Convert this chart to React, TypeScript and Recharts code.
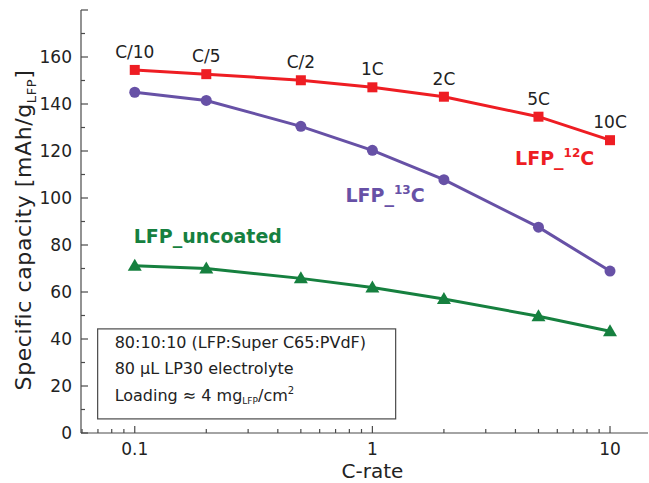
import React from "react";
import {
  ComposedChart,
  Line,
  XAxis,
  YAxis,
  ReferenceDot,
  ReferenceArea,
  LabelList,
} from "recharts";

// C-rates and the rate names written over the red curve
const rates = [0.1, 0.2, 0.5, 1, 2, 5, 10];
const rateNames = ["C/10", "C/5", "C/2", "1C", "2C", "5C", "10C"];

// specific capacity, mAh/g LFP
const lfp12C = [154.5, 152.7, 150.1, 147.1, 143.1, 134.6, 124.6];
const lfp13C = [145, 141.5, 130.5, 120.3, 107.8, 87.6, 68.9];
const lfpUncoated = [71.2, 70, 65.8, 61.9, 57, 49.7, 43.3];

const xMajor = [0.1, 1, 10];
const xMinor = [0.06, 0.07, 0.08, 0.09, 0.2, 0.3, 0.4, 0.5, 0.6, 0.7, 0.8, 0.9, 2, 3, 4, 5, 6, 7, 8, 9];
const yMajor = [0, 20, 40, 60, 80, 100, 120, 140, 160, 180];
const yMinor = [10, 30, 50, 70, 90, 110, 130, 150, 170];
const yLabelled = [0, 20, 40, 60, 80, 100, 120, 140, 160];

const xTicks = [...xMinor, ...xMajor].sort((a, b) => a - b);
const yTicks = [...yMinor, ...yMajor].sort((a, b) => a - b);

const RED = "#ee1d23";
const PURPLE = "#6751a6";
const GREEN = "#16803f";
const AXIS = "#4a4a4a";
const FONT = "DejaVu Sans";

// series names placed in the plot (data coordinates)
const tags = [
  { x: 5.85, y: 117, iso: "12", name: "LFP_", tail: "C", color: RED },
  { x: 1.13, y: 101.3, iso: "13", name: "LFP_", tail: "C", color: PURPLE },
  { x: 0.203, y: 83.8, iso: "", name: "LFP_uncoated", tail: "", color: GREEN },
];

const data = rates.map((r, i) => ({
  rate: r,
  name: rateNames[i],
  c12: lfp12C[i],
  c13: lfp13C[i],
  unc: lfpUncoated[i],
}));

const BottomTick = (props: any) => {
  const { x, y, payload } = props;
  const major = xMajor.includes(payload.value);
  return (
    <g>
      <line x1={x} x2={x} y1={y} y2={y - (major ? 7 : 4)} stroke={AXIS} strokeWidth={1.2} />
      {major && (
        <text x={x} y={y + 22} textAnchor="middle" fontFamily={FONT} fontSize={17} fill="#222">
          {payload.value}
        </text>
      )}
    </g>
  );
};

const TopTick = (props: any) => {
  const { x, y, payload } = props;
  const major = xMajor.includes(payload.value);
  return <line x1={x} x2={x} y1={y} y2={y + (major ? 7 : 4)} stroke={AXIS} strokeWidth={1.2} />;
};

const LeftTick = (props: any) => {
  const { x, y, payload } = props;
  const major = yMajor.includes(payload.value);
  return (
    <g>
      <line x1={x} x2={x + (major ? 7 : 4)} y1={y} y2={y} stroke={AXIS} strokeWidth={1.2} />
      {yLabelled.includes(payload.value) && (
        <text x={x - 9} y={y + 6} textAnchor="end" fontFamily={FONT} fontSize={17} fill="#222">
          {payload.value}
        </text>
      )}
    </g>
  );
};

const RightTick = (props: any) => {
  const { x, y, payload } = props;
  const major = yMajor.includes(payload.value);
  return <line x1={x} x2={x - (major ? 7 : 4)} y1={y} y2={y} stroke={AXIS} strokeWidth={1.2} />;
};

const XLabel = (props: any) => {
  const { x, y, width } = props.viewBox;
  return (
    <text x={x + width / 2 + 8} y={y + 45} textAnchor="middle" fontFamily={FONT} fontSize={20} fill="#222">
      C-rate
    </text>
  );
};

const YLabel = () => (
  <text
    transform="translate(31,230) rotate(-90)"
    textAnchor="middle"
    fontFamily={FONT}
    fontSize={22}
    letterSpacing={0.6}
    fill="#222"
  >
    Specific capacity [mAh/g
    <tspan fontSize={13} dy={5}>LFP</tspan>
    <tspan dy={-5}>]</tspan>
  </text>
);

const Square = (props: any) => {
  const { cx, cy } = props;
  if (cx == null || cy == null) return null;
  return <rect x={cx - 5} y={cy - 5} width={10} height={10} fill={RED} />;
};

const Triangle = (props: any) => {
  const { cx, cy } = props;
  if (cx == null || cy == null) return null;
  return <polygon points={`${cx},${cy - 7} ${cx + 7},${cy + 5} ${cx - 7},${cy + 5}`} fill={GREEN} />;
};

const InfoBox = (props: any) => {
  const { x, y, width, height } = props;
  const tx = x + 17;
  return (
    <g fontFamily={FONT} fontSize={16} fill="#222">
      <rect x={x} y={y} width={width} height={height} fill="#fff" stroke={AXIS} strokeWidth={1.2} />
      <text x={tx} y={y + 19}>80:10:10 (LFP:Super C65:PVdF)</text>
      <text x={tx} y={y + 45}>80 µL LP30 electrolyte</text>
      <text x={tx} y={y + 72}>
        Loading ≈ 4 mg
        <tspan fontSize={9} dy={3}>LFP</tspan>
        <tspan dy={-3}>/cm</tspan>
        <tspan fontSize={10} dy={-7}>2</tspan>
      </text>
    </g>
  );
};

const tagShape = (t: any) => (p: any) => (
  <text
    x={p.cx}
    y={p.cy + 7}
    textAnchor="middle"
    fontFamily={FONT}
    fontWeight="bold"
    fontSize={19}
    fill={t.color}
  >
    {t.name}
    {t.iso && (
      <tspan fontSize={12} dy={-8}>
        {t.iso}
      </tspan>
    )}
    {t.tail && <tspan dy={8}>{t.tail}</tspan>}
  </text>
);

export default function App() {
  return (
    <div style={{ position: "fixed", left: 0, top: 0, width: 649, height: 483, background: "#fff" }}>
      <ComposedChart width={649} height={483} data={data} margin={{ top: 10, right: 1, bottom: 0, left: 0 }}>
        <XAxis
          dataKey="rate"
          type="number"
          scale="log"
          domain={[0.0594, 14.45]}
          allowDataOverflow
          ticks={xTicks}
          interval={0}
          tickLine={false}
          tickSize={0}
          tickMargin={0}
          height={50}
          tick={<BottomTick />}
          axisLine={{ stroke: AXIS, strokeWidth: 1.2 }}
          label={<XLabel />}
        />
        <XAxis
          xAxisId="top"
          orientation="top"
          dataKey="rate"
          type="number"
          scale="log"
          domain={[0.0594, 14.45]}
          allowDataOverflow
          ticks={xTicks}
          interval={0}
          tickLine={false}
          tickSize={0}
          tickMargin={0}
          height={0}
          tick={<TopTick />}
          axisLine={{ stroke: AXIS, strokeWidth: 1.2 }}
        />
        <YAxis
          type="number"
          domain={[0, 180]}
          allowDataOverflow
          ticks={yTicks}
          interval={0}
          tickLine={false}
          tickSize={0}
          tickMargin={0}
          width={81}
          tick={<LeftTick />}
          axisLine={{ stroke: AXIS, strokeWidth: 1.2 }}
          label={<YLabel />}
        />
        <YAxis
          yAxisId="right"
          orientation="right"
          type="number"
          domain={[0, 180]}
          allowDataOverflow
          ticks={yTicks}
          interval={0}
          tickLine={false}
          tickSize={0}
          tickMargin={0}
          width={0}
          tick={<RightTick />}
          axisLine={{ stroke: AXIS, strokeWidth: 1.2 }}
        />
        <ReferenceArea x1={0.0698} x2={1.253} y1={6} y2={44.3} shape={InfoBox} ifOverflow="visible" />
        <Line
          dataKey="unc"
          stroke={GREEN}
          strokeWidth={3}
          dot={<Triangle />}
          activeDot={false}
          isAnimationActive={false}
        />
        <Line
          dataKey="c13"
          stroke={PURPLE}
          strokeWidth={3}
          dot={{ r: 5.5, fill: PURPLE, stroke: PURPLE, strokeWidth: 0 }}
          activeDot={false}
          isAnimationActive={false}
        />
        <Line
          dataKey="c12"
          stroke={RED}
          strokeWidth={3}
          dot={<Square />}
          activeDot={false}
          isAnimationActive={false}
        >
          <LabelList dataKey="name" position="top" offset={12} fontFamily={FONT} fontSize={17} fill="#222" />
        </Line>
        {tags.map((t, i) => (
          <ReferenceDot key={i} x={t.x} y={t.y} r={0} ifOverflow="visible" shape={tagShape(t)} />
        ))}
      </ComposedChart>
    </div>
  );
}
